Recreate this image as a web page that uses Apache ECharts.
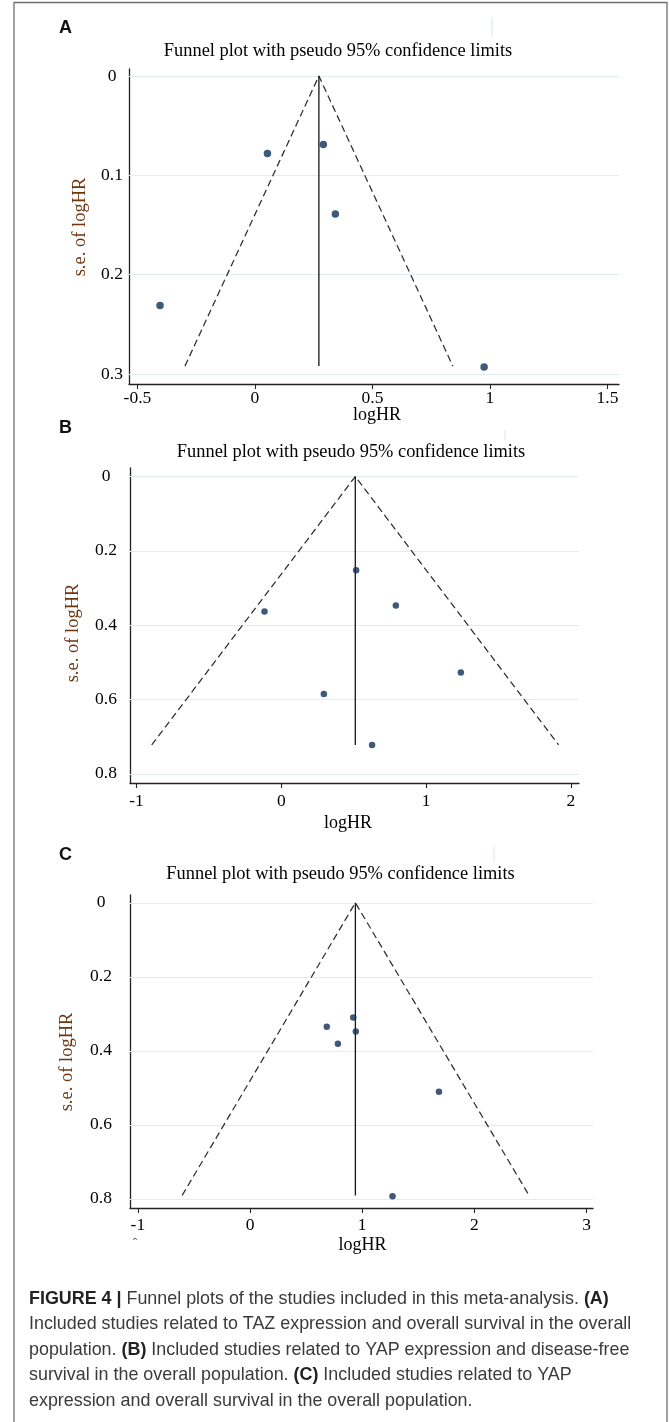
<!DOCTYPE html>
<html>
<head>
<meta charset="utf-8">
<script src="https://cdn.jsdelivr.net/npm/echarts@6/dist/echarts.min.js"></script>
<style>
html,body{margin:0;padding:0;background:#fff;}
#chart{width:669px;height:1422px;}
</style>
</head>
<body>
<div id="chart"></div>
<script>
// ---------- data ----------
const titleText = 'Funnel plot with pseudo 95% confidence limits';
const panelLetters = ['A', 'B', 'C'];
const xName = 'logHR';
const yName = 's.e. of logHR';

// Panel A: TAZ / OS
const logHR_A = [0.053, 0.291, 0.342, -0.404, 0.975];
const se_A    = [0.078, 0.069, 0.139, 0.231, 0.293];
const pooled_A = 0.272;
const seMax_A  = 0.292;
const limits_A = [-0.298, 0.842];
const xTicks_A = [-0.5, 0, 0.5, 1, 1.5];
const yTicks_A = [0, 0.1, 0.2, 0.3];

// Panel B: YAP / DFS
const logHR_B = [0.517, -0.116, 0.791, 1.240, 0.294, 0.627];
const se_B    = [0.252, 0.363, 0.347, 0.527, 0.585, 0.722];
const pooled_B = 0.511;
const seMax_B  = 0.722;
const limits_B = [-0.895, 1.915];
const xTicks_B = [-1, 0, 1, 2];
const yTicks_B = [0, 0.2, 0.4, 0.6, 0.8];

// Panel C: YAP / OS
const logHR_C = [0.920, 0.684, 0.943, 0.783, 1.684, 1.270];
const se_C    = [0.310, 0.335, 0.348, 0.381, 0.511, 0.793];
const pooled_C = 0.939;
const seMax_C  = 0.791;
const limits_C = [-0.605, 2.487];
const xTicks_C = [-1, 0, 1, 2, 3];
const yTicks_C = [0, 0.2, 0.4, 0.6, 0.8];

const captionLines = [
  '{b|FIGURE 4 |} Funnel plots of the studies included in this meta-analysis. {b|(A)}',
  'Included studies related to TAZ expression and overall survival in the overall',
  'population. {b|(B)} Included studies related to YAP expression and disease-free',
  'survival in the overall population. {b|(C)} Included studies related to YAP',
  'expression and overall survival in the overall population.'
];

// ---------- layout / style ----------
const SERIF = '"Liberation Serif","Times New Roman",serif';
const SANS = '"Liberation Sans",Arial,Helvetica,sans-serif';
const panels = [
  {lx: logHR_A, se: se_A, pooled: pooled_A, seMax: seMax_A, lim: limits_A, xt: xTicks_A, yt: yTicks_A,
   grid: {left: 129, top: 69, width: 490, height: 315}, xr: [-0.536, 1.549], yr: [-0.007, 0.310],
   yMargin: 17, xMargin: 5, sym: 7.5},
  {lx: logHR_B, se: se_B, pooled: pooled_B, seMax: seMax_B, lim: limits_B, xt: xTicks_B, yt: yTicks_B,
   grid: {left: 130, top: 468, width: 449, height: 315}, xr: [-1.045, 2.056], yr: [-0.023, 0.8245],
   yMargin: 24, xMargin: 9, sym: 6.5},
  {lx: logHR_C, se: se_C, pooled: pooled_C, seMax: seMax_C, lim: limits_C, xt: xTicks_C, yt: yTicks_C,
   grid: {left: 130, top: 895, width: 463, height: 313}, xr: [-1.07, 3.057], yr: [-0.021, 0.825],
   yMargin: 29, xMargin: 8, sym: 6.5}
];

const grids = [], xAxes = [], yAxes = [], series = [];
panels.forEach((p, i) => {
  grids.push(Object.assign({containLabel: false}, p.grid));
  xAxes.push({
    type: 'value', gridIndex: i, min: p.xr[0], max: p.xr[1], position: 'bottom',
    axisLine: {show: true, onZero: false, lineStyle: {color: '#222', width: 1.3}},
    axisTick: {show: true, length: 5, customValues: p.xt, lineStyle: {color: '#222', width: 1.1}},
    axisLabel: {show: true, customValues: p.xt, margin: p.xMargin, color: '#000',
                fontFamily: SERIF, fontSize: 17.5},
    splitLine: {show: false}
  });
  yAxes.push({
    type: 'value', gridIndex: i, inverse: true, min: p.yr[0], max: p.yr[1], position: 'left',
    axisLine: {show: true, onZero: false, lineStyle: {color: '#222', width: 1.3}},
    axisTick: {show: false, customValues: p.yt},
    axisLabel: {show: true, customValues: p.yt, margin: p.yMargin, align: 'center', color: '#000',
                fontFamily: SERIF, fontSize: 17.5},
    splitLine: {show: false}
  });
  // pseudo 95% confidence limits (dashed funnel)
  series.push({
    type: 'line', xAxisIndex: i, yAxisIndex: i, silent: true, showSymbol: false, symbol: 'none',
    data: [[p.lim[0], p.seMax], [p.pooled, 0], [p.lim[1], p.seMax]],
    lineStyle: {color: '#2e2e2e', width: 1.25, type: [7, 4]}, z: 3,
    markLine: {
      silent: true, symbol: ['none', 'none'], label: {show: false},
      lineStyle: {type: 'solid', color: '#e3edf0', width: 1.2},
      data: p.yt.map(v => ({yAxis: v})), z: 1
    }
  });
  // pooled estimate line
  series.push({
    type: 'line', xAxisIndex: i, yAxisIndex: i, silent: true, showSymbol: false, symbol: 'none',
    data: [[p.pooled, 0], [p.pooled, p.seMax]],
    lineStyle: {color: '#151515', width: 1.3, type: 'solid'}, z: 3
  });
  // studies
  series.push({
    type: 'scatter', xAxisIndex: i, yAxisIndex: i, symbol: 'circle', symbolSize: p.sym,
    data: p.lx.map((x, k) => [x, p.se[k]]),
    itemStyle: {color: '#0f3158'}, z: 5
  });
});

// text elements
const graphic = [];
graphic.push({type: 'rect', shape: {x: 14, y: 2.5, width: 653, height: 1440},
  style: {fill: 'none', stroke: '#6f6f6f', lineWidth: 1.3}, silent: true});
const letterPos = [[59, 37], [59, 437], [59, 864]];
const titlePos = [[338, 51], [351, 452], [340.5, 874]];
const xNamePos = [[377, 415], [348, 823], [362.5, 1245]];
const yNamePos = [[80, 227], [73, 633], [67, 1062]];
const artifacts = [[492, 17, 38], [505, 430, 441], [494, 845, 862]];
for (let i = 0; i < 3; i++) {
  graphic.push({type: 'text', x: letterPos[i][0], y: letterPos[i][1], silent: true,
    style: {text: panelLetters[i], font: 'bold 18px ' + SANS, fill: '#111', align: 'left', verticalAlign: 'bottom'}});
  graphic.push({type: 'text', x: titlePos[i][0], y: titlePos[i][1], silent: true,
    style: {text: titleText, font: '18.4px ' + SERIF, fill: '#000', align: 'center', verticalAlign: 'middle'}});
  graphic.push({type: 'text', x: xNamePos[i][0], y: xNamePos[i][1], silent: true,
    style: {text: xName, font: '18px ' + SERIF, fill: '#000', align: 'center', verticalAlign: 'middle'}});
  graphic.push({type: 'text', x: yNamePos[i][0], y: yNamePos[i][1], rotation: Math.PI / 2, silent: true,
    style: {text: yName, font: '18.5px ' + SERIF, fill: '#6e3510', align: 'center', verticalAlign: 'middle'}});
  graphic.push({type: 'line', silent: true,
    shape: {x1: artifacts[i][0], y1: artifacts[i][1], x2: artifacts[i][0], y2: artifacts[i][2]},
    style: {stroke: '#dbe9ee', lineWidth: 1}});
}
graphic.push({type: 'text', x: 135, y: 1244, silent: true,
  style: {text: 'ˆ', font: '14px ' + SERIF, fill: '#555', align: 'center', verticalAlign: 'middle'}});
captionLines.forEach((t, k) => {
  graphic.push({type: 'text', x: 29, y: 1299 + 25.5 * k, silent: true,
    style: {text: t, font: '17.9px ' + SANS, fill: '#3a3a3a', align: 'left', verticalAlign: 'middle',
      rich: {b: {font: 'bold 17.9px ' + SANS, fill: '#222'}}}});
});

const chart = echarts.init(document.getElementById('chart'), null, {renderer: 'canvas'});
chart.setOption({
  animation: false,
  backgroundColor: '#ffffff',
  grid: grids, xAxis: xAxes, yAxis: yAxes, series: series, graphic: graphic
});
</script>
</body>
</html>
